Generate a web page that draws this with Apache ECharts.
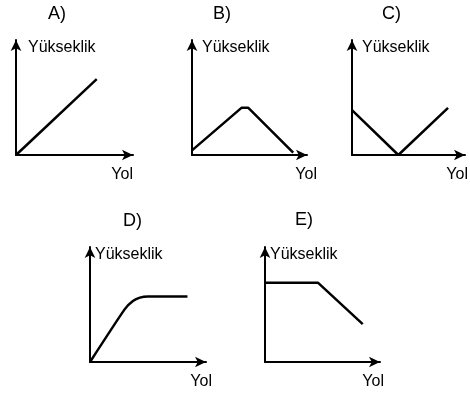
<!DOCTYPE html>
<html>
<head>
    <meta charset="utf-8">
    <title>Yükseklik - Yol</title>
    <script src="https://cdn.jsdelivr.net/npm/echarts@6/dist/echarts.min.js"></script>
    <style>
        body { margin: 0; background: #fff; }
    </style>
</head>
<body>
    <div id="main" style="width: 470px;height:398px;"></div>
    <script type="text/javascript">
    // etiketler
    const panelLabels = ['A)', 'B)', 'C)', 'D)', 'E)'];
    const yName = 'Yükseklik';
    const xName = 'Yol';

    // her grafik icin [yol, yukseklik] noktalari (0..10)
    const lineA = [[0, 0], [6.9, 6.6]];
    const lineB = [[0, 0.4], [4.3, 4.1], [4.9, 4.1], [8.8, 0.2]];
    const lineC = [[0, 3.9], [4.1, 0], [8.5, 4.1]];
    const lineD = [[0, 0], [3.0, 4.6], [3.7, 5.3], [4.3, 5.6], [5.0, 5.7], [8.4, 5.7]];
    const lineE = [[0, 6.9], [4.6, 6.9], [8.5, 3.3]];
    const allLines = [lineA, lineB, lineC, lineD, lineE];
    const smoothFlags = [false, false, false, 0.2, false];

    // konumlar
    const grids = [
        { left: 16, top: 40, width: 117, height: 115 },
        { left: 192, top: 40, width: 115, height: 115 },
        { left: 352, top: 40, width: 113, height: 115 },
        { left: 90, top: 247, width: 116, height: 115 },
        { left: 265, top: 247, width: 115, height: 115 }
    ];
    const titlePos = [[48, 5], [213, 5], [382, 5], [123, 212], [295, 211]];
    const yolGap = [0, 10, 3, 6, 4];
    const yukPad = [12, 10, 10, 5, 5];

    var myChart = echarts.init(document.getElementById('main'));

    const axisLine = {
        show: true,
        symbol: ['none', 'arrow'],
        symbolSize: [8, 11],
        lineStyle: { color: '#000', width: 2 }
    };
    const font = 'Liberation Sans, Arial, sans-serif';

    var option = {
        animation: false,
        backgroundColor: '#fff',
        title: panelLabels.map((t, i) => ({
            text: t,
            left: titlePos[i][0],
            top: titlePos[i][1],
            padding: 0,
            textStyle: { fontSize: 18, fontWeight: 'normal', color: '#000', fontFamily: font }
        })),
        grid: grids,
        xAxis: grids.map((g, i) => ({
            type: 'value',
            gridIndex: i,
            min: 0,
            max: 10,
            name: xName,
            nameLocation: 'end',
            nameGap: yolGap[i],
            nameTextStyle: {
                fontSize: 16, color: '#000', fontFamily: font,
                align: 'right', verticalAlign: 'top', padding: [12, 0, 0, 0]
            },
            axisLine: axisLine,
            axisTick: { show: false },
            axisLabel: { show: false },
            splitLine: { show: false }
        })),
        yAxis: grids.map((g, i) => ({
            type: 'value',
            gridIndex: i,
            min: 0,
            max: 10,
            name: yName,
            nameLocation: 'end',
            nameGap: -8,
            nameTextStyle: {
                fontSize: 16, color: '#000', fontFamily: font,
                align: 'left', verticalAlign: 'middle', padding: [0, 0, 0, yukPad[i]]
            },
            axisLine: axisLine,
            axisTick: { show: false },
            axisLabel: { show: false },
            splitLine: { show: false }
        })),
        series: allLines.map((d, i) => ({
            type: 'line',
            xAxisIndex: i,
            yAxisIndex: i,
            data: d,
            smooth: smoothFlags[i],
            showSymbol: false,
            lineStyle: { color: '#000', width: 2.5 }
        }))
    };

    myChart.setOption(option);
    </script>
</body>
</html>
